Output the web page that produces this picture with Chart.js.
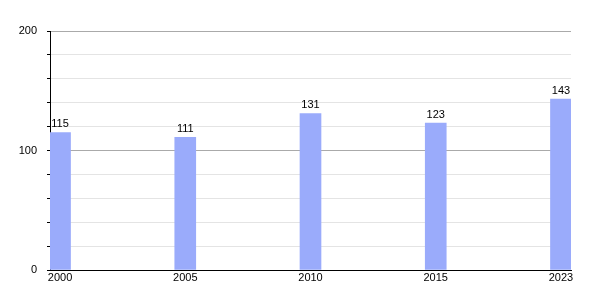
<!DOCTYPE html>
<html>
<head>
<meta charset="utf-8">
<script src="https://cdn.jsdelivr.net/npm/chart.js@4"></script>
<style>
html,body{margin:0;padding:0;background:#fff;}
#wrap{width:600px;height:300px;position:relative;}
</style>
</head>
<body>
<div id="wrap"><canvas id="c" width="600" height="300"></canvas></div>
<script>
const years = ['2000', '2005', '2010', '2015', '2023'];
const values = [115, 111, 131, 123, 143];
const yTickLabels = [0, 100, 200];

const FONT = {family: '"Liberation Sans", Arial, Helvetica, sans-serif', size: 11};

const valueLabels = {
  id: 'valueLabels',
  afterDatasetsDraw(chart) {
    const ctx = chart.ctx;
    const meta = chart.getDatasetMeta(0);
    ctx.save();
    ctx.font = '11px ' + FONT.family;
    ctx.fillStyle = '#000';
    ctx.textAlign = 'center';
    ctx.textBaseline = 'bottom';
    meta.data.forEach((bar, i) => {
      ctx.fillText(String(values[i]), bar.x, bar.y - 3);
    });
    ctx.restore();
  }
};

new Chart(document.getElementById('c'), {
  type: 'bar',
  data: {
    datasets: [{
      data: values.map((v, i) => ({x: i, y: v})),
      backgroundColor: '#9aabfb',
      borderWidth: 0,
      barThickness: 21
    }]
  },
  options: {
    responsive: false,
    animation: false,
    layout: {padding: {top: 31, right: 29, left: 0, bottom: 0}},
    plugins: {legend: {display: false}, tooltip: {enabled: false}},
    scales: {
      x: {
        type: 'linear',
        offset: false,
        min: -0.08,
        max: 4.08,
        afterBuildTicks: (s) => { s.ticks = years.map((_, i) => ({value: i})); },
        afterFit: (s) => { s.height = 30; },
        ticks: {
          callback: (v) => years[v] !== undefined ? years[v] : '',
          font: FONT, color: '#000', padding: 1, maxRotation: 0, autoSkip: false
        },
        grid: {display: false, drawTicks: false, offset: false},
        border: {display: true, color: '#000', width: 1}
      },
      y: {
        min: 0,
        max: 200,
        afterFit: (s) => { s.width = 50; },
        ticks: {
          stepSize: 20,
          callback: (v) => yTickLabels.includes(v) ? String(v) : '',
          font: FONT, color: '#000', padding: 10
        },
        grid: {
          color: (c) => (c.tick && c.tick.value % 100 === 0) ? '#aaaaaa' : '#e4e4e4',
          tickColor: '#000',
          tickLength: 3,
          lineWidth: 1
        },
        border: {display: true, color: '#000', width: 1}
      }
    }
  },
  plugins: [valueLabels]
});
</script>
</body>
</html>
